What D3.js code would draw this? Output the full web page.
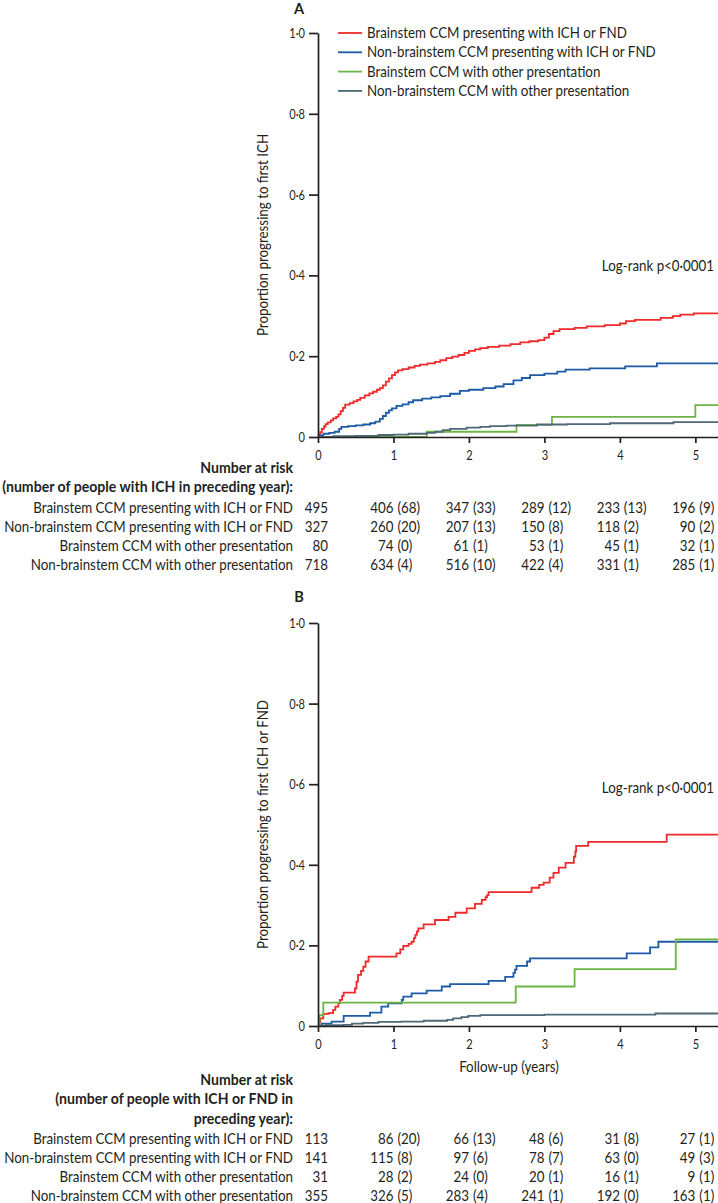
<!DOCTYPE html>
<html lang="en">
<head>
<meta charset="UTF-8">
<title>Cumulative incidence of first ICH / FND</title>
<script src="https://d3js.org/d3.v7.min.js"></script>
<style>
  body { margin: 0; background: #fff; }
  svg { display: block; font-family: Lato, "Open Sans", sans-serif; }
  .axis path, .axis line { stroke: #231f20; stroke-width: 1.7; }
  .axis text { font-size: 14px; fill: #231f20; font-family: Lato, sans-serif; }
  .lbl { font-size: 14.5px; fill: #231f20; }
  .bold { font-weight: bold; }
</style>
</head>
<body>
<svg width="718" height="1203"></svg>
<script>
// groups, in legend order
const groups = [
  "Brainstem CCM presenting with ICH or FND",
  "Non-brainstem CCM presenting with ICH or FND",
  "Brainstem CCM with other presentation",
  "Non-brainstem CCM with other presentation"
];
const years = [0, 1, 2, 3, 4, 5];
const yTicks = [0, 0.2, 0.4, 0.6, 0.8, 1.0];

// Panel A: proportion progressing to first ICH, [years, proportion] step points
const aBrainstemIchFnd = [[0,0],[0.01,0.006],[0.03,0.012],[0.05,0.02],[0.08,0.026],[0.1,0.032],[0.13,0.036],[0.17,0.041],[0.2,0.046],[0.24,0.05],[0.27,0.056],[0.3,0.064],[0.33,0.072],[0.36,0.08],[0.42,0.084],[0.47,0.088],[0.52,0.092],[0.56,0.097],[0.62,0.103],[0.68,0.108],[0.73,0.112],[0.78,0.117],[0.82,0.121],[0.86,0.128],[0.9,0.137],[0.94,0.145],[0.98,0.153],[1.02,0.16],[1.06,0.165],[1.12,0.168],[1.2,0.172],[1.28,0.176],[1.35,0.179],[1.45,0.182],[1.55,0.186],[1.62,0.19],[1.7,0.195],[1.78,0.199],[1.86,0.203],[1.94,0.208],[2.0,0.213],[2.08,0.217],[2.15,0.22],[2.25,0.223],[2.4,0.226],[2.55,0.23],[2.68,0.234],[2.8,0.237],[2.92,0.24],[3.0,0.246],[3.06,0.255],[3.12,0.262],[3.2,0.267],[3.4,0.27],[3.56,0.274],[3.8,0.277],[4.0,0.281],[4.08,0.287],[4.2,0.29],[4.54,0.295],[4.7,0.299],[4.8,0.303],[4.98,0.306],[5.3,0.306]];
const aNonBrainstemIchFnd = [[0,0],[0.03,0.004],[0.07,0.008],[0.15,0.01],[0.22,0.013],[0.28,0.02],[0.31,0.025],[0.4,0.027],[0.5,0.029],[0.6,0.031],[0.69,0.034],[0.76,0.038],[0.82,0.045],[0.86,0.052],[0.9,0.06],[0.94,0.066],[0.98,0.071],[1.04,0.077],[1.12,0.081],[1.2,0.086],[1.26,0.091],[1.38,0.095],[1.5,0.098],[1.62,0.101],[1.75,0.107],[1.88,0.114],[2.0,0.117],[2.19,0.121],[2.35,0.125],[2.46,0.131],[2.59,0.14],[2.7,0.146],[2.81,0.153],[3.0,0.157],[3.17,0.162],[3.28,0.167],[3.6,0.17],[4.07,0.175],[4.49,0.182],[5.3,0.182]];
const aBrainstemOther = [[0,0],[1.44,0.013],[2.63,0.03],[3.1,0.05],[5.0,0.079],[5.3,0.079]];
const aNonBrainstemOther = [[0,0],[0.2,0.002],[0.5,0.003],[0.8,0.005],[1.0,0.006],[1.2,0.008],[1.44,0.01],[1.55,0.013],[1.65,0.017],[1.75,0.02],[1.97,0.023],[2.15,0.025],[2.28,0.027],[2.5,0.028],[2.9,0.031],[3.3,0.032],[3.87,0.034],[4.71,0.037],[5.3,0.037]];

// Panel B: proportion progressing to first ICH or FND
const bBrainstemIchFnd = [[0,0],[0.02,0.01],[0.03,0.019],[0.07,0.03],[0.14,0.032],[0.2,0.04],[0.23,0.048],[0.27,0.057],[0.29,0.065],[0.32,0.075],[0.34,0.083],[0.49,0.093],[0.51,0.11],[0.53,0.127],[0.57,0.137],[0.6,0.147],[0.63,0.16],[0.67,0.172],[1.04,0.18],[1.09,0.19],[1.13,0.199],[1.2,0.204],[1.24,0.209],[1.27,0.218],[1.29,0.226],[1.31,0.235],[1.33,0.242],[1.4,0.252],[1.55,0.263],[1.73,0.271],[1.82,0.281],[1.97,0.292],[2.08,0.303],[2.17,0.313],[2.22,0.32],[2.24,0.325],[2.26,0.332],[2.83,0.343],[2.93,0.35],[2.99,0.356],[3.07,0.368],[3.12,0.38],[3.19,0.393],[3.28,0.405],[3.39,0.42],[3.41,0.433],[3.42,0.447],[3.58,0.457],[4.62,0.475],[5.3,0.475]];
const bNonBrainstemIchFnd = [[0,0],[0.05,0.006],[0.18,0.011],[0.34,0.025],[0.69,0.033],[0.84,0.048],[0.93,0.056],[1.11,0.065],[1.13,0.073],[1.24,0.081],[1.44,0.088],[1.64,0.098],[1.75,0.104],[2.26,0.112],[2.48,0.122],[2.59,0.132],[2.61,0.14],[2.63,0.149],[2.77,0.16],[2.81,0.168],[4.09,0.18],[4.4,0.195],[4.51,0.209],[5.3,0.209]];
const bBrainstemOther = [[0,0],[0.02,0.027],[0.07,0.058],[2.62,0.098],[3.4,0.141],[4.74,0.215],[5.3,0.215]];
const bNonBrainstemOther = [[0,0],[0.1,0.002],[0.34,0.003],[0.45,0.006],[0.6,0.008],[0.8,0.01],[1.1,0.011],[1.4,0.013],[1.71,0.015],[1.79,0.019],[1.9,0.022],[1.99,0.025],[2.15,0.027],[3.0,0.028],[4.47,0.031],[5.3,0.031]];

// number at risk (events in preceding year)
const aAtRisk = [[495,406,347,289,233,196],[327,260,207,150,118,90],[80,74,61,53,45,32],[718,634,516,422,331,285]];
const aEvents = [[null,68,33,12,13,9],[null,20,13,8,2,2],[null,0,1,1,1,1],[null,4,10,4,1,1]];
const bAtRisk = [[113,86,66,48,31,27],[141,115,97,78,63,49],[31,28,24,20,16,9],[355,326,283,241,192,163]];
const bEvents = [[null,20,13,6,8,1],[null,8,6,7,0,3],[null,2,0,1,1,1],[null,5,4,1,0,1]];

const colors = ["#ee2a2a", "#1d5ba6", "#6cb545", "#4e6878"];

const svg = d3.select("svg");
const x = d3.scaleLinear().domain([0, 5.3]).range([318, 718]);

const panels = [
  { letter: "A", letterY: 14, top: 33, bottom: 437,
    ylabel: "Proportion progressing to first ICH", logrankY: 266,
    curves: [aBrainstemIchFnd, aNonBrainstemIchFnd, aBrainstemOther, aNonBrainstemOther],
    legend: true, xlabel: null,
    header: ["Number at risk", "(number of people with ICH in preceding year):"], headerY: 468,
    rowsY: 508, atRisk: aAtRisk, events: aEvents },
  { letter: "B", letterY: 602, top: 623, bottom: 1026,
    ylabel: "Proportion progressing to first ICH or FND", logrankY: 788,
    curves: [bBrainstemIchFnd, bNonBrainstemIchFnd, bBrainstemOther, bNonBrainstemOther],
    legend: false, xlabel: "Follow-up (years)",
    header: ["Number at risk", "(number of people with ICH or FND in", "preceding year):"], headerY: 1080,
    rowsY: 1139, atRisk: bAtRisk, events: bEvents }
];

const fmtY = d => d === 0 ? "0" : d3.format(".1f")(d).replace(".", "\u00b7");

panels.forEach(p => {
  const y = d3.scaleLinear().domain([0, 1]).range([p.bottom, p.top]);
  const g = svg.append("g");

  g.append("text").attr("class", "lbl bold")
    .attr("x", 299).attr("y", p.letterY).attr("text-anchor", "middle")
    .style("font-size", "15px").text(p.letter);

  // curves (step functions)
  const line = d3.line().x(d => x(d[0])).y(d => y(d[1])).curve(d3.curveStepAfter);
  p.curves.forEach((c, i) => {
    g.append("path").datum(c)
      .attr("fill", "none").attr("stroke", colors[i])
      .attr("stroke-width", 1.8).attr("d", line);
  });

  // axes
  g.append("g").attr("class", "axis")
    .attr("transform", `translate(0,${p.bottom})`)
    .call(d3.axisBottom(x).tickValues(years).tickFormat(d3.format("d"))
      .tickSize(6).tickSizeOuter(0).tickPadding(7));
  g.append("g").attr("class", "axis")
    .attr("transform", `translate(${x(0)},0)`)
    .call(d3.axisLeft(y).tickValues(yTicks).tickFormat(fmtY).tickSize(9).tickSizeOuter(0).tickPadding(4));

  g.append("text").attr("class", "lbl")
    .attr("transform", `translate(268,${(p.top + p.bottom) / 2}) rotate(-90)`)
    .attr("text-anchor", "middle").text(p.ylabel);

  g.append("text").attr("class", "lbl")
    .attr("x", 714).attr("y", p.logrankY).attr("dy", "0.35em")
    .attr("text-anchor", "end").text("Log-rank p<0\u00b70001");

  if (p.xlabel) {
    g.append("text").attr("class", "lbl")
      .attr("x", 509).attr("y", p.bottom + 41).attr("dy", "0.35em")
      .attr("text-anchor", "middle").text(p.xlabel);
  }

  if (p.legend) {
    const lg = g.append("g");
    groups.forEach((name, i) => {
      const ly = 33 + i * 19.3;
      lg.append("line").attr("x1", 338).attr("x2", 362).attr("y1", ly).attr("y2", ly)
        .attr("stroke", colors[i]).attr("stroke-width", 1.8);
      lg.append("text").attr("class", "lbl").attr("x", 367).attr("y", ly)
        .attr("dy", "0.35em").text(name);
    });
  }

  // number at risk table
  p.header.forEach((h, i) => {
    g.append("text").attr("class", "lbl bold")
      .attr("x", 293).attr("y", p.headerY + i * 19.3).attr("dy", "0.35em")
      .attr("text-anchor", "end").text(h);
  });
  groups.forEach((name, r) => {
    const ry = p.rowsY + r * 19;
    g.append("text").attr("class", "lbl")
      .attr("x", 293).attr("y", ry).attr("dy", "0.35em")
      .attr("text-anchor", "end").text(name);
    years.forEach((yr, j) => {
      g.append("text").attr("class", "lbl")
        .attr("x", j === 0 ? x(yr) + 10 : x(yr)).attr("y", ry).attr("dy", "0.35em")
        .attr("text-anchor", "end").text(p.atRisk[r][j]);
      if (p.events[r][j] !== null) {
        g.append("text").attr("class", "lbl")
          .attr("x", x(yr) + 4).attr("y", ry).attr("dy", "0.35em")
          .text(`(${p.events[r][j]})`);
      }
    });
  });
});

// the figure's typeface is narrower than Lato: squeeze each text horizontally
// about its own anchor so the long labels take the same width as in the figure
function squeeze(sel, probe, target) {
  const t = svg.append("text").attr("class", sel.replace(/:not\(.*?\)/, "").replace(/\./g, " ").trim()).text(probe);
  const k = target / t.node().getComputedTextLength();
  t.remove();
  svg.selectAll("text").filter(function () {
    return this.matches(sel);
  }).each(function () {
    const X = +this.getAttribute("x") || 0;
    const prev = this.getAttribute("transform") || "";
    d3.select(this).attr("transform", `${prev} translate(${X * (1 - k)},0) scale(${k},1)`);
  });
}
squeeze(".lbl:not(.bold)", "Non-brainstem CCM presenting with ICH or FND", 289);
squeeze(".lbl.bold", "(number of people with ICH in preceding year):", 291);
squeeze(".axis text", "0\u00b72", 18);
</script>
</body>
</html>
